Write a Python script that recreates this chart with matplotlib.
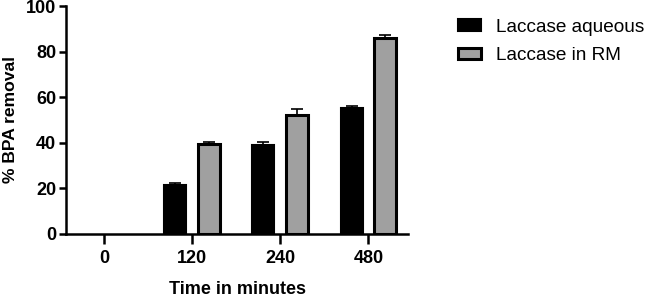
import matplotlib
matplotlib.use("Agg")
import matplotlib.pyplot as plt
from matplotlib.patches import Patch
import numpy as np

plt.rcParams['font.family'] = ['Liberation Sans', 'DejaVu Sans']

times = ["0", "120", "240", "480"]
aqueous = np.array([0, 21.5, 39.0, 55.0])
aqueous_err = np.array([0, 0.8, 1.4, 1.3])
rm = np.array([0, 39.5, 52.0, 86.0])
rm_err = np.array([0, 0.8, 2.8, 1.3])

x = np.arange(len(times))
w = 0.25
off = 0.19
gray = '#a0a0a0'

fig = plt.figure(figsize=(6.45, 2.98), dpi=100)
ax = fig.add_axes([0.1023, 0.2164, 0.5303, 0.7628])

# zero values (t = 0) are not drawn in the original
m1 = aqueous > 0
m2 = rm > 0
ax.bar(x[m1] - off, aqueous[m1], w, color='black', edgecolor='black',
       linewidth=1.5, zorder=2)
ax.errorbar(x[m1] - off, aqueous[m1], yerr=[np.zeros(m1.sum()), aqueous_err[m1]],
            fmt='none', ecolor='black', elinewidth=1.2, capsize=4, capthick=1.2,
            zorder=3)
ax.bar(x[m2] + off, rm[m2], w, color=gray, edgecolor='black',
       linewidth=2.2, zorder=2)
ax.errorbar(x[m2] + off, rm[m2], yerr=[np.zeros(m2.sum()), rm_err[m2]],
            fmt='none', ecolor='black', elinewidth=1.2, capsize=4, capthick=1.2,
            zorder=3)

ax.set_xlim(-0.43, 3.45)
ax.set_ylim(0, 100)
ax.set_yticks([0, 20, 40, 60, 80, 100])
ax.set_xticks(x)
ax.set_xticklabels(times)

for s in ['top', 'right']:
    ax.spines[s].set_visible(False)
for s in ['left', 'bottom']:
    ax.spines[s].set_linewidth(1.8)

ax.tick_params(axis='y', length=5, width=1.8, labelsize=13, pad=2)
ax.tick_params(axis='x', length=7, width=1.8, labelsize=13, pad=5)
for lab in ax.get_xticklabels() + ax.get_yticklabels():
    lab.set_fontweight('bold')

ax.set_ylabel("% BPA removal", fontsize=12.6, fontweight='bold', labelpad=6)
ax.set_xlabel("Time in minutes", fontsize=13, fontweight='bold', labelpad=10)

handles = [Patch(facecolor='black', edgecolor='black', linewidth=1.5),
           Patch(facecolor=gray, edgecolor='black', linewidth=2.2)]
ax.legend(handles, ['Laccase aqueous', 'Laccase in RM'],
          loc='upper left', bbox_to_anchor=(1.097, 1.02), frameon=False,
          fontsize=13.7, handlelength=1.2, handleheight=0.55,
          handletextpad=0.8, labelspacing=0.6)

fig.savefig("out.png", dpi=100)
